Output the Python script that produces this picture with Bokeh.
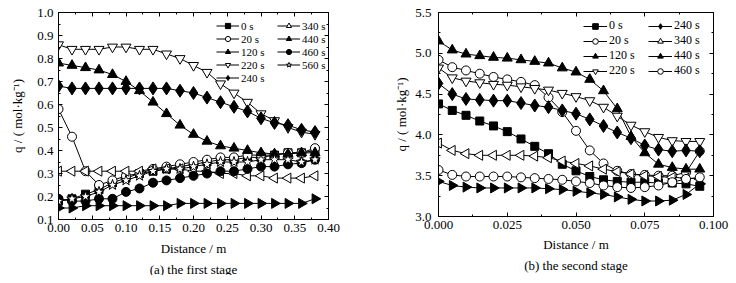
import math
from bokeh.plotting import figure
from bokeh.models import (Range1d, LinearAxis, SingleIntervalTicker, NumeralTickFormatter,
                          Legend, LegendItem, Title)
from bokeh.layouts import row
from bokeh.embed import file_html
from bokeh.resources import INLINE

FONT = "'Liberation Serif', 'Times New Roman', serif"

# ---------------- data: panel (a) the first stage ----------------
dist_a = [0.00, 0.02, 0.04, 0.06, 0.08, 0.10, 0.12, 0.14, 0.16, 0.18,
          0.20, 0.22, 0.24, 0.26, 0.28, 0.30, 0.32, 0.34, 0.36, 0.38]
labels_a = ["0 s", "20 s", "120 s", "220 s", "240 s", "340 s", "440 s", "460 s", "560 s"]
qa_0 = [0.18, 0.19, 0.21, 0.23, 0.26, 0.28, 0.30, 0.31, 0.32, 0.33,
        0.34, 0.35, 0.36, 0.36, 0.37, 0.37, 0.38, 0.39, 0.39, 0.40]
qa_20 = [0.58, 0.46, 0.31, 0.25, 0.27, 0.29, 0.30, 0.32, 0.33, 0.34,
         0.35, 0.36, 0.37, 0.37, 0.38, 0.38, 0.38, 0.39, 0.39, 0.41]
qa_120 = [0.78, 0.77, 0.76, 0.75, 0.73, 0.70, 0.66, 0.61, 0.56, 0.51,
          0.47, 0.44, 0.42, 0.41, 0.40, 0.39, 0.385, 0.385, 0.39, 0.39]
qa_220 = [0.86, 0.84, 0.84, 0.84, 0.85, 0.85, 0.84, 0.84, 0.82, 0.80,
          0.77, 0.74, 0.69, 0.65, 0.61, 0.56, 0.53, 0.50, 0.48, 0.47]
qa_240 = [0.68, 0.67, 0.67, 0.67, 0.67, 0.67, 0.67, 0.67, 0.67, 0.66,
          0.65, 0.63, 0.61, 0.59, 0.57, 0.54, 0.52, 0.51, 0.49, 0.48]
qa_340 = [0.31, 0.31, 0.31, 0.31, 0.31, 0.31, 0.31, 0.32, 0.32, 0.32,
          0.31, 0.31, 0.30, 0.30, 0.29, 0.29, 0.28, 0.28, 0.28, 0.29]
qa_440 = [0.15, 0.15, 0.16, 0.16, 0.16, 0.16, 0.16, 0.16, 0.16, 0.17,
          0.17, 0.17, 0.17, 0.17, 0.17, 0.17, 0.17, 0.17, 0.17, 0.19]
qa_460 = [0.19, 0.18, 0.18, 0.19, 0.19, 0.22, 0.235, 0.26, 0.27, 0.28,
          0.29, 0.30, 0.31, 0.31, 0.32, 0.33, 0.33, 0.34, 0.345, 0.36]
qa_560 = [0.18, 0.19, 0.20, 0.22, 0.25, 0.27, 0.29, 0.31, 0.32, 0.32,
          0.33, 0.34, 0.35, 0.35, 0.35, 0.36, 0.36, 0.36, 0.35, 0.36]
series_a = [qa_0, qa_20, qa_120, qa_220, qa_240, qa_340, qa_440, qa_460, qa_560]

# ---------------- data: panel (b) the second stage ----------------
dist_b = [0.000, 0.005, 0.010, 0.015, 0.020, 0.025, 0.030, 0.035, 0.040, 0.045,
          0.050, 0.055, 0.060, 0.065, 0.070, 0.075, 0.080, 0.085, 0.090, 0.095]
labels_b = ["0 s", "20 s", "120 s", "220 s", "240 s", "340 s", "440 s", "460 s"]
qb_0 = [4.38, 4.30, 4.24, 4.17, 4.11, 4.04, 3.95, 3.86, 3.77, 3.64,
        3.56, 3.49, 3.45, 3.43, 3.42, 3.42, 3.41, 3.41, 3.40, 3.37]
qb_20 = [4.92, 4.83, 4.79, 4.75, 4.71, 4.68, 4.65, 4.61, 4.46, 4.28,
         4.05, 3.81, 3.65, 3.56, 3.52, 3.51, 3.50, 3.50, 3.54, 3.80]
qb_120 = [5.15, 5.04, 4.99, 4.97, 4.95, 4.94, 4.92, 4.90, 4.88, 4.82,
          4.77, 4.68, 4.54, 4.32, 3.98, 3.78, 3.64, 3.60, 3.58, 3.58]
qb_220 = [4.82, 4.70, 4.66, 4.64, 4.62, 4.61, 4.59, 4.57, 4.55, 4.51,
          4.47, 4.42, 4.34, 4.23, 4.12, 4.04, 3.97, 3.93, 3.92, 3.92]
qb_240 = [4.63, 4.50, 4.44, 4.43, 4.42, 4.42, 4.39, 4.36, 4.34, 4.30,
          4.26, 4.19, 4.11, 4.03, 3.96, 3.87, 3.82, 3.80, 3.81, 3.80]
qb_340 = [3.90, 3.81, 3.77, 3.75, 3.75, 3.75, 3.75, 3.74, 3.72, 3.68,
          3.65, 3.62, 3.58, 3.55, 3.52, 3.50, 3.49, 3.48, 3.47, 3.46]
qb_440 = [3.43, 3.38, 3.36, 3.35, 3.35, 3.35, 3.35, 3.35, 3.34, 3.33,
          3.31, 3.29, 3.27, 3.24, 3.21, 3.19, 3.19, 3.20, 3.27, 3.40]
qb_460 = [3.57, 3.51, 3.49, 3.49, 3.49, 3.49, 3.48, 3.47, 3.46, 3.45,
          3.43, 3.41, 3.38, 3.36, 3.35, 3.36, 3.38, 3.42, 3.46, 3.48]
series_b = [qb_0, qb_20, qb_120, qb_220, qb_240, qb_340, qb_440, qb_460]

# marker styles: (marker, filled, angle, size)
STY = {
    "0 s":   ("square", True, 0.0, 8),
    "20 s":  ("circle", False, 0.0, 9),
    "120 s": ("triangle", True, 0.0, 10),
    "220 s": ("inverted_triangle", False, 0.0, 10),
    "240 s": ("diamond", True, 0.0, 13),
    "340 s": ("triangle", False, math.pi / 2, 10),
    "440 s": ("triangle", True, -math.pi / 2, 10),
    "460 s": ("circle", True, 0.0, 9),
    "560 s": ("star", False, 0.0, 11),
}
STY_B = dict(STY)
STY_B["460 s"] = ("circle", False, 0.0, 9)


def make_panel(xs, ys_list, labels, styles, xr, yr, xint, yint, xfmt, yfmt,
               fw, fh, borders, caption, leg):
    bl, br, bt, bb = borders
    p = figure(frame_width=fw, frame_height=fh, output_backend="svg", toolbar_location=None,
               x_range=Range1d(*xr), y_range=Range1d(*yr),
               min_border_left=bl, min_border_right=br, min_border_top=bt, min_border_bottom=bb,
               x_axis_label="Distance / m", y_axis_label="q / ( mol\u00b7kg\u207b\u00b9)")
    p.grid.visible = False
    p.outline_line_color = None
    p.background_fill_color = "white"
    p.border_fill_color = "white"

    p.add_layout(LinearAxis(), "above")
    p.add_layout(LinearAxis(), "right")

    for ax in p.xaxis:
        ax.ticker = SingleIntervalTicker(interval=xint, num_minor_ticks=2)
        ax.formatter = NumeralTickFormatter(format=xfmt)
    for ax in p.yaxis:
        ax.ticker = SingleIntervalTicker(interval=yint, num_minor_ticks=2)
        ax.formatter = NumeralTickFormatter(format=yfmt)
    for ax in p.xaxis + p.yaxis:
        ax.axis_line_color = "black"
        ax.axis_line_width = 1
        ax.major_tick_in = 4
        ax.major_tick_out = 0
        ax.minor_tick_in = 2
        ax.minor_tick_out = 0
        ax.major_tick_line_color = "black"
        ax.minor_tick_line_color = "black"
        ax.major_label_text_font = FONT
        ax.major_label_text_font_size = "13px"
        ax.major_label_text_color = "black"
        ax.axis_label_text_font = FONT
        ax.axis_label_text_font_size = "13px"
        ax.axis_label_text_font_style = "normal"
        ax.axis_label_text_color = "black"
    # mirrored axes: ticks only, labels not drawn
    for ax in (p.above[0], p.right[0]):
        ax.major_label_text_font_size = "1px"
        ax.major_label_text_color = None
        ax.major_label_standoff = 0
        ax.axis_label = None
    p.below[0].major_label_standoff = leg["xstand"]
    p.below[0].axis_label_standoff = leg["xlabstand"]
    p.left[0].major_label_standoff = leg["ystand"]
    p.left[0].axis_label_standoff = leg["ylabstand"]

    items = []
    for ys, lab in zip(ys_list, labels):
        mk, filled, ang, sz = styles[lab]
        lr = p.line(xs, ys, line_color="black", line_width=1)
        sr = p.scatter(xs, ys, marker=mk, size=sz, angle=ang,
                       fill_color="black" if filled else "white",
                       line_color="black", line_width=1)
        items.append(LegendItem(label=lab, renderers=[lr, sr]))

    legend = Legend(items=items, ncols=2, location=leg["loc"],
                    glyph_width=leg["gw"], glyph_height=leg["gh"],
                    label_height=leg["gh"], label_width=leg["lw"],
                    label_standoff=2, spacing=0, padding=0, margin=0,
                    border_line_color=None, background_fill_alpha=0,
                    label_text_font=FONT, label_text_font_size=leg["fs"],
                    label_text_color="black")
    p.add_layout(legend)

    p.add_layout(Title(text=caption, align="center", text_font=FONT,
                       text_font_size="13px", text_font_style="normal",
                       text_color="black", standoff=2, offset=0), "below")
    return p


pa = make_panel(dist_a, series_a, labels_a, STY, (0.0, 0.40), (0.1, 1.0), 0.05, 0.1,
                "0.00", "0.0", 270, 207, (58, 40, 10, 55), "(a) the first stage",
                dict(loc=(158, 135), gw=23, gh=13, lw=36, fs="11px",
                     ystand=5, ylabstand=9, xstand=4, xlabstand=6))
pb = make_panel(dist_b, series_b, labels_b, STY_B, (0.0, 0.100), (3.0, 5.5), 0.025, 0.5,
                "0.000", "0.0", 275, 204, (70, 20, 12, 55), "(b) the second stage",
                dict(loc=(145, 138), gw=24, gh=14, lw=39, fs="12px",
                     ystand=7, ylabstand=3, xstand=4, xlabstand=5))

layout = row(pa, pb)
open("out.html", "w").write(file_html(layout, INLINE))
